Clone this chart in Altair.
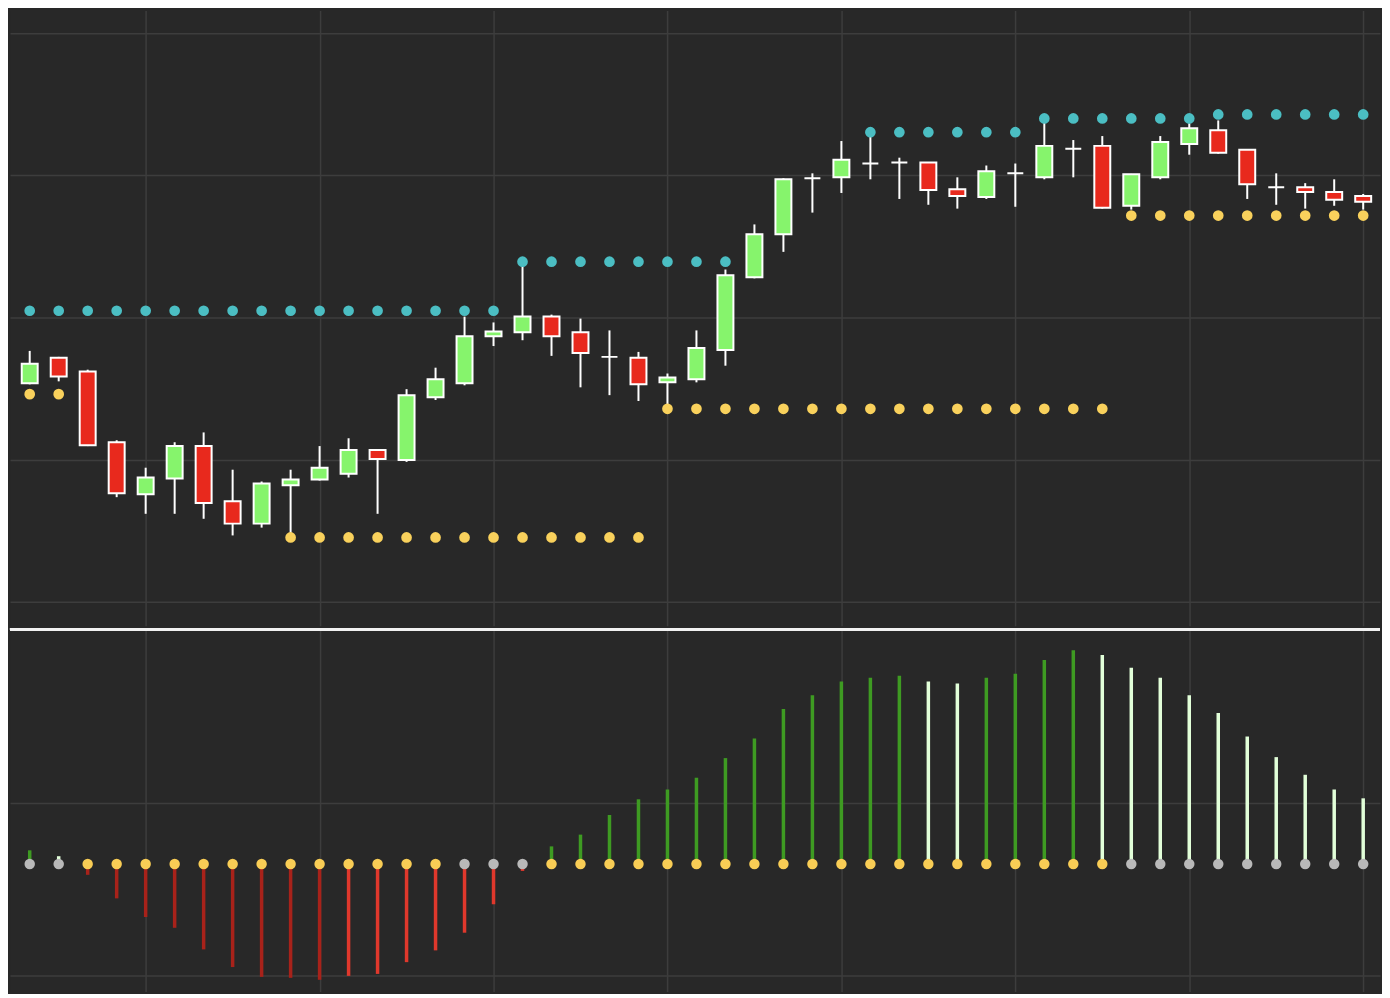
import altair as alt
import pandas as pd

# ---- price candles ----
opens = [95.38, 97.17, 96.21, 91.24, 87.59, 88.69, 90.97, 87.10, 85.52, 88.21, 88.62, 89.03,
         90.69, 90.00, 94.41, 95.38, 98.69, 98.97, 100.07, 98.97, 97.24, 97.17, 95.45, 95.66,
         97.72, 102.83, 105.86, 109.79, 109.86, 110.83, 110.90, 110.90, 109.03, 108.48, 110.14,
         109.86, 111.86, 112.07, 107.86, 109.86, 112.21, 113.17, 111.79, 109.17, 109.17, 108.83, 108.55]
closes = [96.76, 95.86, 91.03, 87.66, 88.76, 90.97, 86.97, 85.52, 88.34, 88.62, 89.45, 90.69,
          90.07, 94.55, 95.66, 98.69, 99.03, 100.07, 98.69, 97.52, 97.24, 95.31, 95.79, 97.86,
          102.97, 105.86, 109.72, 109.79, 111.10, 110.83, 110.90, 108.97, 108.55, 110.28, 110.14,
          112.07, 111.86, 107.72, 110.07, 112.34, 113.31, 111.59, 109.38, 109.17, 108.83, 108.28, 108.14]
highs = [97.66, 97.24, 96.34, 91.38, 89.45, 91.24, 91.93, 89.31, 88.48, 89.31, 90.97, 91.52,
         90.72, 94.97, 96.48, 100.07, 99.66, 103.93, 100.21, 99.93, 99.10, 97.59, 96.07, 99.10,
         103.38, 106.55, 109.79, 110.14, 112.41, 113.10, 111.24, 110.93, 109.86, 110.69, 110.83,
         114.00, 112.48, 112.76, 110.10, 112.76, 113.66, 113.86, 111.83, 110.14, 109.45, 109.72, 108.69]
lows = [95.31, 95.52, 90.97, 87.38, 86.21, 86.21, 85.86, 84.69, 85.24, 84.55, 88.55, 88.76,
        86.21, 89.86, 94.21, 95.24, 98.00, 98.41, 97.31, 95.10, 94.55, 94.14, 93.52, 95.45,
        96.62, 102.76, 104.62, 107.38, 108.76, 109.72, 108.34, 107.93, 107.66, 108.34, 107.79,
        109.72, 109.86, 107.66, 107.59, 109.72, 111.45, 111.52, 108.34, 107.93, 107.66, 107.86, 107.59]

# ---- resistance (cyan) and support (yellow) dotted levels ----
resist = [100.48, 100.48, 100.48, 100.48, 100.48, 100.48, 100.48, 100.48, 100.48, 100.48,
          100.48, 100.48, 100.48, 100.48, 100.48, 100.48, 100.48,
          103.93, 103.93, 103.93, 103.93, 103.93, 103.93, 103.93, 103.93,
          None, None, None, None,
          113.03, 113.03, 113.03, 113.03, 113.03, 113.03,
          114.00, 114.00, 114.00, 114.00, 114.00, 114.00,
          114.28, 114.28, 114.28, 114.28, 114.28, 114.28]
support = [94.62, 94.62,
           None, None, None, None, None, None, None,
           84.55, 84.55, 84.55, 84.55, 84.55, 84.55, 84.55, 84.55, 84.55, 84.55, 84.55, 84.55, 84.55,
           93.59, 93.59, 93.59, 93.59, 93.59, 93.59, 93.59, 93.59, 93.59, 93.59, 93.59, 93.59,
           93.59, 93.59, 93.59, 93.59,
           107.17, 107.17, 107.17, 107.17, 107.17, 107.17, 107.17, 107.17, 107.17]

# ---- momentum histogram and squeeze state ----
momentum = [0.14, 0.08, -0.11, -0.35, -0.54, -0.65, -0.87, -1.05, -1.15, -1.16, -1.18, -1.14,
            -1.12, -1.00, -0.88, -0.70, -0.41, -0.07, 0.18, 0.30, 0.50, 0.66, 0.76, 0.88,
            1.08, 1.28, 1.58, 1.72, 1.86, 1.90, 1.92, 1.86, 1.84, 1.90, 1.94, 2.08, 2.18,
            2.13, 2.00, 1.90, 1.72, 1.54, 1.30, 1.09, 0.91, 0.76, 0.67]
squeeze = ["off", "off",
           "on", "on", "on", "on", "on", "on", "on", "on", "on", "on", "on", "on", "on",
           "off", "off", "off",
           "on", "on", "on", "on", "on", "on", "on", "on", "on", "on",
           "on", "on", "on", "on", "on", "on", "on", "on", "on", "on",
           "off", "off", "off", "off", "off", "off", "off", "off", "off"]

grid_idx = [4, 10, 16, 22, 28, 34, 40, 46]
price_grid = [80, 90, 100, 110, 120]
mom_grid = [0.62, -1.14]

# ---- tables ----
n = len(opens)
idx = list(range(n))
direction = ["up" if c > o else ("down" if c < o else "flat") for o, c in zip(opens, closes)]
candles = pd.DataFrame({"i": idx, "open": opens, "close": closes, "high": highs,
                        "low": lows, "dir": direction})
res_df = pd.DataFrame({"i": idx, "level": resist}).dropna()
sup_df = pd.DataFrame({"i": idx, "level": support}).dropna()

mcol = []
for k, v in enumerate(momentum):
    prev = momentum[k - 1] if k > 0 else v - 1
    if v >= 0:
        mcol.append("pos_up" if v > prev else "pos_down")
    else:
        mcol.append("neg_up" if v > prev else "neg_down")
mom_df = pd.DataFrame({"i": idx, "mom": momentum, "mcol": mcol, "sq": squeeze})

W, H1, H2 = 1374, 617, 365
BG = "#282828"
GRID = "#3d3d3d"

xscale = alt.Scale(domain=[-0.68, 46.58], nice=False, zero=False, padding=0)
xaxis = alt.Axis(values=grid_idx, grid=True, labels=False, ticks=False, domain=False,
                 title=None, gridColor=GRID, gridWidth=1.5)
yscale_top = alt.Scale(domain=[78.35, 121.59], nice=False, zero=False, padding=0)
yaxis_top = alt.Axis(values=price_grid, grid=True, labels=False, ticks=False, domain=False,
                     title=None, gridColor=GRID, gridWidth=1.5)
yscale_bot = alt.Scale(domain=[-1.30, 2.41], nice=False, zero=False, padding=0)
yaxis_bot = alt.Axis(values=mom_grid, grid=True, labels=False, ticks=False, domain=False,
                     title=None, gridColor=GRID, gridWidth=1.5)

X = alt.X("i:Q", scale=xscale, axis=xaxis)

base = alt.Chart(candles)
wicks = base.mark_rule(color="#ffffff", strokeWidth=2).encode(
    x=X,
    y=alt.Y("low:Q", scale=yscale_top, axis=yaxis_top),
    y2="high:Q",
)
bodies = base.mark_bar(width=16, stroke="#ffffff", strokeWidth=2).encode(
    x=X,
    y=alt.Y("open:Q", scale=yscale_top, axis=yaxis_top),
    y2="close:Q",
    color=alt.Color("dir:N", scale=alt.Scale(domain=["up", "down", "flat"],
                                             range=["#86f46c", "#e8291d", "#ffffff"]),
                    legend=None),
)
res_pts = alt.Chart(res_df).mark_circle(size=115, color="#4bbec3", opacity=1).encode(
    x=X,
    y=alt.Y("level:Q", scale=yscale_top, axis=yaxis_top),
)
sup_pts = alt.Chart(sup_df).mark_circle(size=115, color="#f9d15c", opacity=1).encode(
    x=X,
    y=alt.Y("level:Q", scale=yscale_top, axis=yaxis_top),
)
top = alt.layer(wicks, bodies, res_pts, sup_pts).properties(width=W, height=H1)

mbase = alt.Chart(mom_df)
bars = mbase.mark_rule(strokeWidth=3.5).encode(
    x=X,
    y=alt.Y("mom:Q", scale=yscale_bot, axis=yaxis_bot),
    y2=alt.datum(0),
    color=alt.Color("mcol:N", scale=alt.Scale(
        domain=["pos_up", "pos_down", "neg_down", "neg_up"],
        range=["#3e9b22", "#e2ffd9", "#a8221a", "#e0382c"]), legend=None),
)
dots = mbase.mark_circle(size=110, opacity=1).encode(
    x=X,
    y=alt.datum(0),
    color=alt.Color("sq:N", scale=alt.Scale(domain=["on", "off"],
                                            range=["#f9cd55", "#b9b9b9"]), legend=None),
)
sep = mbase.mark_rule(color="#f2f2f2", strokeWidth=2.5).encode(
    x=alt.value(0), x2=alt.value(W), y=alt.value(1.5)
)
bottom = alt.layer(bars, dots, sep).resolve_scale(color="independent").properties(width=W, height=H2)

chart = (
    alt.vconcat(top, bottom, spacing=0)
    .properties(padding=0, background=BG)
    .configure_view(stroke="transparent", fill=BG)
)

chart.save("out.html", embed_options={"renderer": "svg", "actions": False})
